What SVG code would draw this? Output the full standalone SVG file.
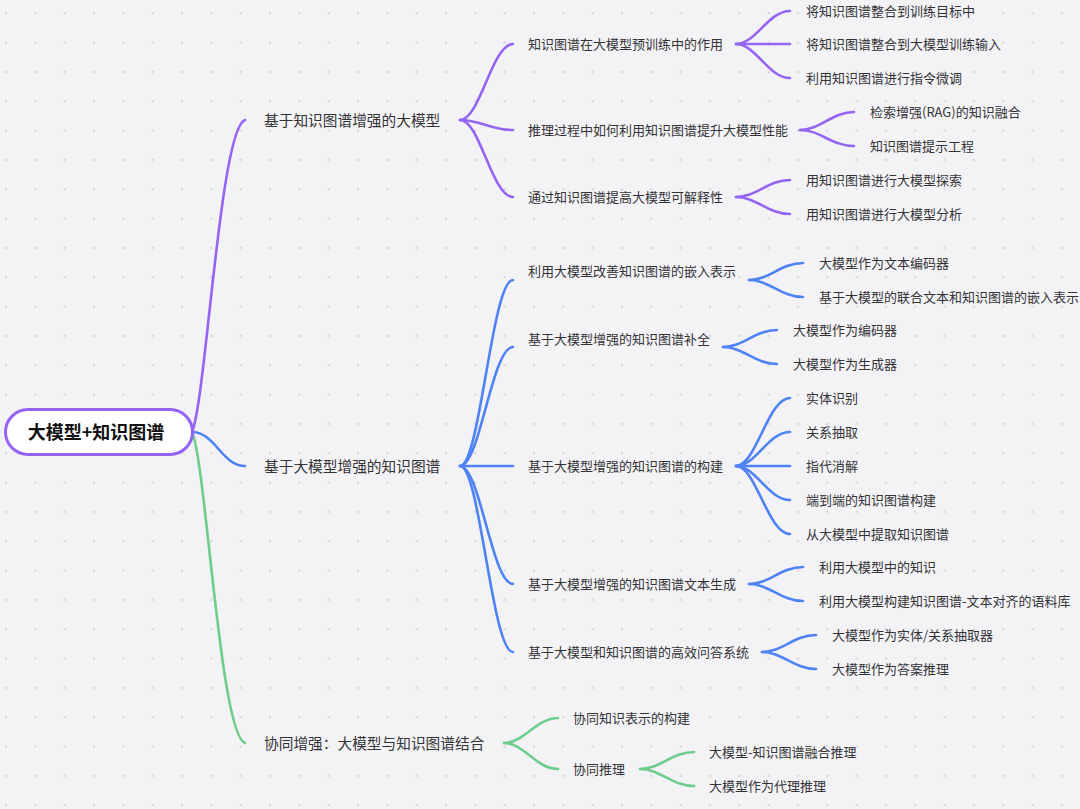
<svg xmlns="http://www.w3.org/2000/svg" width="1080" height="809" viewBox="0 0 1080 809">
<style>
text{font-family:"Noto Sans CJK SC","Noto Sans",sans-serif;fill:#333336;dominant-baseline:central}
.root{font-size:18px;font-weight:700;fill:#111;text-anchor:middle}
.l1{font-size:14.7px}
.l2{font-size:13px}
.c{fill:none;stroke-linecap:round;stroke-width:2.6}
.p{stroke:#9464f2}
.b{stroke:#4f82f5}
.g{stroke:#6fcd8c}
</style>
<defs>
<pattern id="dots" x="5" y="12.3" width="29.33" height="29.33" patternUnits="userSpaceOnUse">
<rect x="0" y="0" width="2" height="2" fill="#d2d2d7"/>
</pattern>
</defs>
<rect width="1080" height="809" fill="#f3f3f6"/>
<rect width="1080" height="809" fill="url(#dots)"/>

<g id="connectors">
<path class="c p" d="M192,432 C206,400 220,128 245,120"/>
<path class="c b" d="M192,432 C215,432 222,466 245,466"/>
<path class="c g" d="M192,432 C206,462 220,735 245,743"/>

<path class="c p" d="M460,120 C480,120 492,44 513,44"/>
<path class="c p" d="M460,120 C480,120 492,130 513,130"/>
<path class="c p" d="M460,120 C480,120 492,197 513,197"/>

<path class="c p" d="M736,44 C756,44 768,11 790,11"/>
<path class="c p" d="M736,44 L790,44"/>
<path class="c p" d="M736,44 C756,44 768,78 790,78"/>
<path class="c p" d="M800,130 C820,130 832,112 854,112"/>
<path class="c p" d="M800,130 C820,130 832,146 854,146"/>
<path class="c p" d="M736,197 C756,197 768,180 790,180"/>
<path class="c p" d="M736,197 C756,197 768,214 790,214"/>

<path class="c b" d="M460,466 C480,466 492,280 513,280"/>
<path class="c b" d="M460,466 C480,466 492,347 513,347"/>
<path class="c b" d="M460,466 L513,466"/>
<path class="c b" d="M460,466 C480,466 492,584 513,584"/>
<path class="c b" d="M460,466 C480,466 492,652 513,652"/>

<path class="c b" d="M749,280 C769,280 781,263 803,263"/>
<path class="c b" d="M749,280 C769,280 781,297 803,297"/>
<path class="c b" d="M723,347 C743,347 755,330 777,330"/>
<path class="c b" d="M723,347 C743,347 755,364 777,364"/>
<path class="c b" d="M736,466 C756,466 768,398 790,398"/>
<path class="c b" d="M736,466 C756,466 768,432 790,432"/>
<path class="c b" d="M736,466 L790,466"/>
<path class="c b" d="M736,466 C756,466 768,500 790,500"/>
<path class="c b" d="M736,466 C756,466 768,534 790,534"/>
<path class="c b" d="M749,584 C769,584 781,567 803,567"/>
<path class="c b" d="M749,584 C769,584 781,601 803,601"/>
<path class="c b" d="M762,652 C782,652 794,635 816,635"/>
<path class="c b" d="M762,652 C782,652 794,669 816,669"/>

<path class="c g" d="M504,743 C524,743 536,718 558,718"/>
<path class="c g" d="M504,743 C524,743 536,769 558,769"/>
<path class="c g" d="M640,769 C660,769 672,752 694,752"/>
<path class="c g" d="M640,769 C660,769 672,786 694,786"/>
</g>

<g id="root">
<rect x="5.5" y="409.5" width="187" height="45" rx="22.5" fill="#ffffff" stroke="#9464f2" stroke-width="3"/>
<text class="root" x="96" y="431">大模型+知识图谱</text>
</g>

<g id="nodes" transform="translate(0,-1)">
<g id="n1"><text class="l1" x="264" y="120">基于知识图谱增强的大模型</text></g>
<g id="n2"><text class="l1" x="264" y="466">基于大模型增强的知识图谱</text></g>
<g id="n3"><text class="l1" x="264" y="743">协同增强：大模型与知识图谱结合</text></g>

<g id="n1-1"><text class="l2" x="528" y="44">知识图谱在大模型预训练中的作用</text></g>
<g id="n1-1-1"><text class="l2" x="806" y="11">将知识图谱整合到训练目标中</text></g>
<g id="n1-1-2"><text class="l2" x="806" y="44">将知识图谱整合到大模型训练输入</text></g>
<g id="n1-1-3"><text class="l2" x="806" y="78">利用知识图谱进行指令微调</text></g>
<g id="n1-2"><text class="l2" x="528" y="130">推理过程中如何利用知识图谱提升大模型性能</text></g>
<g id="n1-2-1"><text class="l2" x="870" y="112">检索增强(RAG)的知识融合</text></g>
<g id="n1-2-2"><text class="l2" x="870" y="146">知识图谱提示工程</text></g>
<g id="n1-3"><text class="l2" x="528" y="197">通过知识图谱提高大模型可解释性</text></g>
<g id="n1-3-1"><text class="l2" x="806" y="180">用知识图谱进行大模型探索</text></g>
<g id="n1-3-2"><text class="l2" x="806" y="214">用知识图谱进行大模型分析</text></g>

<g id="n2-1"><text class="l2" x="528" y="271">利用大模型改善知识图谱的嵌入表示</text></g>
<g id="n2-1-1"><text class="l2" x="819" y="263">大模型作为文本编码器</text></g>
<g id="n2-1-2"><text class="l2" x="819" y="297">基于大模型的联合文本和知识图谱的嵌入表示</text></g>
<g id="n2-2"><text class="l2" x="528" y="339">基于大模型增强的知识图谱补全</text></g>
<g id="n2-2-1"><text class="l2" x="793" y="330">大模型作为编码器</text></g>
<g id="n2-2-2"><text class="l2" x="793" y="364">大模型作为生成器</text></g>
<g id="n2-3"><text class="l2" x="528" y="466">基于大模型增强的知识图谱的构建</text></g>
<g id="n2-3-1"><text class="l2" x="806" y="398">实体识别</text></g>
<g id="n2-3-2"><text class="l2" x="806" y="432">关系抽取</text></g>
<g id="n2-3-3"><text class="l2" x="806" y="466">指代消解</text></g>
<g id="n2-3-4"><text class="l2" x="806" y="500">端到端的知识图谱构建</text></g>
<g id="n2-3-5"><text class="l2" x="806" y="534">从大模型中提取知识图谱</text></g>
<g id="n2-4"><text class="l2" x="528" y="584">基于大模型增强的知识图谱文本生成</text></g>
<g id="n2-4-1"><text class="l2" x="819" y="567">利用大模型中的知识</text></g>
<g id="n2-4-2"><text class="l2" x="819" y="601">利用大模型构建知识图谱-文本对齐的语料库</text></g>
<g id="n2-5"><text class="l2" x="528" y="652">基于大模型和知识图谱的高效问答系统</text></g>
<g id="n2-5-1"><text class="l2" x="832" y="635">大模型作为实体/关系抽取器</text></g>
<g id="n2-5-2"><text class="l2" x="832" y="669">大模型作为答案推理</text></g>

<g id="n3-1"><text class="l2" x="573" y="718">协同知识表示的构建</text></g>
<g id="n3-2"><text class="l2" x="573" y="769">协同推理</text></g>
<g id="n3-2-1"><text class="l2" x="709" y="752">大模型-知识图谱融合推理</text></g>
<g id="n3-2-2"><text class="l2" x="709" y="786">大模型作为代理推理</text></g>
</g>
</svg>
